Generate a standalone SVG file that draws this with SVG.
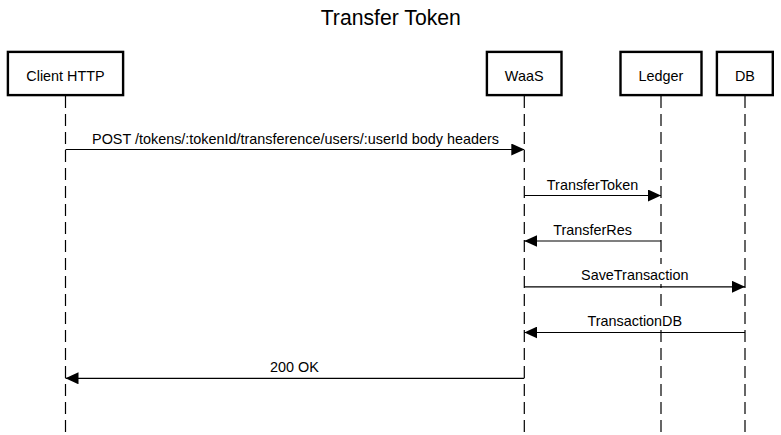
<svg xmlns="http://www.w3.org/2000/svg" width="781" height="435" viewBox="0 0 781 435">
  <style>
    .box { fill: #ffffff; stroke: #000000; stroke-width: 2.4; }
    .life { stroke: #000000; stroke-width: 1.2; stroke-dasharray: 12 6; fill: none; }
    .msg { stroke: #000000; stroke-width: 1.2; fill: none; }
    .bg { fill: #ffffff; stroke: none; }
    .lbl { font-family: "Liberation Sans", Arial, sans-serif; font-size: 14.4px; fill: #000000; text-anchor: middle; }
    .title { font-family: "Liberation Sans", Arial, sans-serif; font-size: 21.2px; fill: #000000; text-anchor: middle; }
  </style>
  <defs>
    <marker id="arrow" viewBox="0 0 13 12" refX="13" refY="6" markerWidth="13" markerHeight="12" markerUnits="userSpaceOnUse" orient="auto">
      <path d="M0,0 L13,6 L0,12 Z" fill="#000000"/>
    </marker>
  </defs>
  <rect x="0" y="0" width="781" height="435" fill="#ffffff"/>
  <text class="title" x="390.8" y="25">Transfer Token</text>

  <g id="client">
    <line class="life" x1="65.5" y1="96" x2="65.5" y2="433"/>
    <rect class="box" x="7.9" y="51.9" width="115.2" height="43.2"/>
    <text class="lbl" x="65.5" y="80.5">Client HTTP</text>
  </g>
  <g id="waas">
    <line class="life" x1="524.3" y1="96" x2="524.3" y2="433"/>
    <rect class="box" x="486.9" y="51.9" width="74.6" height="43.2"/>
    <text class="lbl" x="524.2" y="80.5">WaaS</text>
  </g>
  <g id="ledger">
    <line class="life" x1="661" y1="96" x2="661" y2="433"/>
    <rect class="box" x="620.5" y="51.9" width="81" height="43.2"/>
    <text class="lbl" x="661" y="80.5">Ledger</text>
  </g>
  <g id="db">
    <line class="life" x1="745" y1="96" x2="745" y2="433"/>
    <rect class="box" x="716.9" y="51.9" width="55.9" height="43.2"/>
    <text class="lbl" x="744.9" y="80.5">DB</text>
  </g>

  <g id="connectors">
    <line class="msg" x1="65.5" y1="149.5" x2="524.3" y2="149.5" marker-end="url(#arrow)"/>
    <text class="lbl" x="295.5" y="144">POST /tokens/:tokenId/transference/users/:userId body headers</text>

    <line class="msg" x1="524.3" y1="195.5" x2="661" y2="195.5" marker-end="url(#arrow)"/>
    <text class="lbl" x="592.6" y="189.5">TransferToken</text>

    <line class="msg" x1="661" y1="241" x2="524.3" y2="241" marker-end="url(#arrow)"/>
    <text class="lbl" x="592.6" y="234.5">TransferRes</text>

    <line class="msg" x1="524.3" y1="286.8" x2="745" y2="286.8" marker-end="url(#arrow)"/>
    <rect class="bg" x="579" y="264" width="112" height="20"/>
    <text class="lbl" x="634.8" y="280.3">SaveTransaction</text>

    <line class="msg" x1="745" y1="332.5" x2="524.3" y2="332.5" marker-end="url(#arrow)"/>
    <rect class="bg" x="586" y="310" width="98" height="20"/>
    <text class="lbl" x="634.8" y="326">TransactionDB</text>

    <line class="msg" x1="524.3" y1="378.3" x2="65.5" y2="378.3" marker-end="url(#arrow)"/>
    <text class="lbl" x="294.5" y="372.3">200 OK</text>
  </g>
</svg>
